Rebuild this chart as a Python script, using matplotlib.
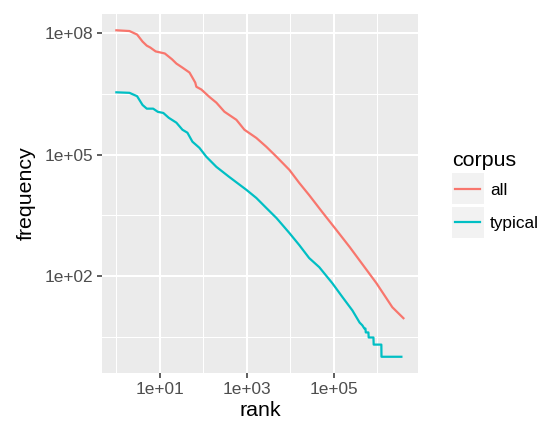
import matplotlib
matplotlib.use("Agg")
import matplotlib.pyplot as plt
from matplotlib.legend_handler import HandlerBase
from matplotlib.patches import Rectangle
from matplotlib.lines import Line2D

plt.rcParams['font.family'] = ['Liberation Sans', 'DejaVu Sans']

# rank / frequency (log-log)
all_rank = [1, 2, 3, 4, 5, 6, 8, 13, 19, 24, 33, 48, 56, 65, 69, 90, 137, 199,
            304, 574, 877, 1650, 2800, 4800, 9500, 16000, 27000, 54000,
            114000, 230000, 950000, 2200000, 3960000]
all_freq = [1.2e8, 1.15e8, 9.4e7, 6.3e7, 5.0e7, 4.5e7, 3.6e7, 3.2e7, 2.3e7,
            1.8e7, 1.43e7, 1.08e7, 8.1e6, 6.1e6, 4.8e6, 4.1e6, 2.7e6, 1.94e6,
            1.16e6, 7.3e5, 4.15e5, 2.6e5, 1.57e5, 8.9e4, 4.2e4, 2.0e4, 1.0e4,
            3800, 1370, 520, 66, 16.8, 9]

typ_rank = [1, 2, 3, 4, 5, 7, 9, 12, 16, 24, 33, 43, 56, 81, 117, 199, 396,
            975, 1650, 2800, 4800, 9500, 16000, 27000, 46000, 92000, 157000,
            266000, 390000, 450000, 500000, 530000, 540000, 620000, 630000,
            810000, 820000, 1230000, 1240000, 3550000]
typ_freq = [3.5e6, 3.4e6, 2.8e6, 1.7e6, 1.38e6, 1.38e6, 1.15e6, 1.08e6, 8.2e5,
            6.2e5, 4.15e5, 3.5e5, 2.1e5, 1.48e5, 8.9e4, 5.0e4, 2.8e4, 1.35e4,
            8500, 4800, 2700, 1150, 580, 277, 165, 66, 30, 14, 7, 6, 5, 5, 4,
            4, 3, 3, 2, 2, 1, 1]

corpora = ['all', 'typical']
colors = ['#F8766D', '#00BFC4']

x_major = [1e1, 1e3, 1e5]
x_major_labels = ['1e+01', '1e+03', '1e+05']
x_minor = [1e0, 1e2, 1e4, 1e6]
y_major = [1e2, 1e5, 1e8]
y_major_labels = ['1e+02', '1e+05', '1e+08']
y_minor = [10 ** 0.5, 10 ** 3.5, 10 ** 6.5]


class KeyHandler(HandlerBase):
    # grey key box with the line across it, like ggplot
    def create_artists(self, legend, orig_handle, xdescent, ydescent,
                       width, height, fontsize, trans):
        cy = (height - ydescent) / 2
        bg = Rectangle((-xdescent, cy - 11.2), width, 22.4,
                       facecolor='#F2F2F2', edgecolor='none', transform=trans)
        ln = Line2D([-xdescent + 2.5, -xdescent + width - 2.5], [cy, cy],
                    color=orig_handle.get_color(), lw=1.6, transform=trans)
        return [bg, ln]


fig = plt.figure(figsize=(5.44, 4.23), dpi=100)
ax = fig.add_axes([0.1875, 0.118, 0.5805, 0.849])
ax.set_facecolor('#EBEBEB')

handles = []
for name, r, f, c in zip(corpora, [all_rank, typ_rank], [all_freq, typ_freq], colors):
    h, = ax.plot(r, f, color=c, lw=1.6, label=name, zorder=3)
    handles.append(h)

ax.set_xscale('log')
ax.set_yscale('log')
ax.margins(0.05)

ax.set_xticks(x_major)
ax.set_xticklabels(x_major_labels)
ax.set_xticks(x_minor, minor=True)
ax.set_xticklabels([], minor=True)
ax.set_yticks(y_major)
ax.set_yticklabels(y_major_labels)
ax.set_yticks(y_minor, minor=True)
ax.set_yticklabels([], minor=True)

ax.grid(True, which='major', color='white', lw=1.5)
ax.grid(True, which='minor', color='white', lw=0.75)
ax.set_axisbelow(True)
for s in ax.spines.values():
    s.set_visible(False)

ax.tick_params(which='major', length=3.6, width=1.1, color='#333333',
               labelcolor='#4D4D4D', labelsize=12.4)
ax.tick_params(axis='x', which='major', pad=3)
ax.tick_params(axis='y', which='major', pad=3)
ax.tick_params(which='minor', length=0)

ax.set_xlabel('rank', fontsize=15.4, labelpad=2.5)
ax.set_ylabel('frequency', fontsize=15.4, labelpad=6)

leg = ax.legend(handles=handles, handler_map={Line2D: KeyHandler()},
                title='corpus', loc='center left', bbox_to_anchor=(1.108, 0.506),
                frameon=False, fontsize=12.4, title_fontsize=15.4,
                handlelength=1.85, handletextpad=0.35,
                labelspacing=1.07, borderpad=0, borderaxespad=0)
leg._legend_box.align = 'left'
leg._legend_box.sep = 9

fig.savefig('out.png', dpi=100)
